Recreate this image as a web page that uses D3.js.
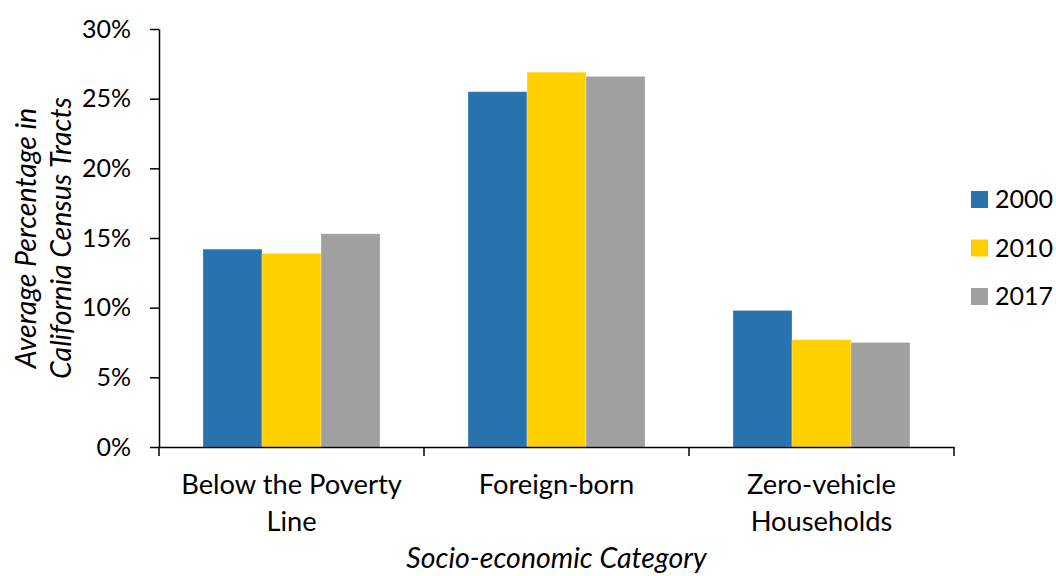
<!DOCTYPE html>
<html>
<head>
<meta charset="utf-8">
<script src="https://cdn.jsdelivr.net/npm/d3@7"></script>
<style>
  html, body { margin: 0; padding: 0; background: #fff; }
  svg { display: block; }
  text { font-family: Lato, "Open Sans", sans-serif; fill: #000; }
</style>
</head>
<body>
<svg id="chart" width="1056" height="576"></svg>
<script>
const categories = ["Below the Poverty Line", "Foreign-born", "Zero-vehicle Households"];
const categoryLines = [["Below the Poverty", "Line"], ["Foreign-born"], ["Zero-vehicle", "Households"]];
const seriesNames = ["2000", "2010", "2017"];
const values2000 = [14.2, 25.5, 9.8];
const values2010 = [13.9, 26.9, 7.7];
const values2017 = [15.3, 26.6, 7.5];
const yTicks = [0, 5, 10, 15, 20, 25, 30];
const colors = ["#2872AD", "#FFD000", "#A0A0A0"];
const yTitleLines = ["Average Percentage in", "California Census Tracts"];
const xTitle = "Socio-economic Category";

const seriesValues = [values2000, values2010, values2017];
const FS_NUM = 25;
const FS_CAT = 27.3;
const FS_TITLE = 28.5;

const svg = d3.select("#chart");

const y = d3.scaleLinear().domain([0, 30]).range([447, 29]);
const x0 = d3.scaleBand().domain(categories).range([159, 954])
  .paddingInner(0.332).paddingOuter(0.166);
const x1 = d3.scaleBand().domain(seriesNames).range([0, x0.bandwidth()]);
const color = d3.scaleOrdinal().domain(seriesNames).range(colors);

// bars
const groups = svg.append("g").selectAll("g")
  .data(categories)
  .join("g")
  .attr("transform", d => `translate(${x0(d)},0)`);

groups.selectAll("rect")
  .data((c, i) => seriesNames.map((s, j) => ({ s, v: seriesValues[j][i] })))
  .join("rect")
  .attr("x", d => x1(d.s))
  .attr("width", x1.bandwidth())
  .attr("y", d => y(d.v))
  .attr("height", d => y(0) - y(d.v))
  .attr("fill", d => color(d.s))
  .attr("stroke", "#ffffff")
  .attr("stroke-opacity", 0.35)
  .attr("stroke-width", 0.8);

// y axis
const yAxis = svg.append("g")
  .attr("transform", "translate(159,0)")
  .call(d3.axisLeft(y).tickValues(yTicks).tickFormat(d => d + "%")
    .tickSize(9).tickSizeOuter(0).tickPadding(19));
yAxis.select(".domain").attr("stroke", "#000").attr("stroke-width", 1.5);
yAxis.selectAll(".tick line").attr("stroke", "#000").attr("stroke-width", 1.5);
yAxis.selectAll(".tick text").attr("font-size", FS_NUM).attr("font-family", "Lato, sans-serif").attr("fill", "#000");

// x axis
const xAxis = svg.append("g")
  .attr("transform", `translate(0,${y(0)})`)
  .call(d3.axisBottom(x0).tickSize(0).tickSizeOuter(0).tickFormat(""));
xAxis.select(".domain").attr("stroke", "#000").attr("stroke-width", 1.5);
xAxis.selectAll(".tick").remove();

const step = x0.step();
const boundaries = [x0.range()[0]].concat(
  categories.map(c => x0(c) + x0.bandwidth() + step * x0.paddingInner() / 2));
svg.append("g").selectAll("line")
  .data(boundaries)
  .join("line")
  .attr("x1", d => d).attr("x2", d => d)
  .attr("y1", y(0)).attr("y2", y(0) + 9)
  .attr("stroke", "#000").attr("stroke-width", 1.5);

// category labels
const lab = svg.append("g").selectAll("text")
  .data(categories)
  .join("text")
  .attr("text-anchor", "middle")
  .attr("font-size", FS_CAT)
  .attr("x", d => x0(d) + x0.bandwidth() / 2)
  .attr("y", 494);
lab.selectAll("tspan")
  .data((d, i) => categoryLines[i])
  .join("tspan")
  .attr("x", function () { return d3.select(this.parentNode).attr("x"); })
  .attr("dy", (d, i) => i === 0 ? 0 : 37)
  .text(d => d);

// y title
const yMid = (y(0) + y(30)) / 2;
svg.append("g").selectAll("text")
  .data(yTitleLines)
  .join("text")
  .attr("transform", (d, i) => `translate(${36 + i * 35},${yMid}) rotate(-90)`)
  .attr("text-anchor", "middle")
  .attr("font-size", FS_TITLE)
  .attr("font-style", "italic")
  .text(d => d);

// x title
svg.append("text")
  .attr("x", (x0.range()[0] + x0.range()[1]) / 2)
  .attr("y", 568)
  .attr("text-anchor", "middle")
  .attr("font-size", FS_TITLE)
  .attr("font-style", "italic")
  .text(xTitle);

// legend
const leg = svg.append("g").selectAll("g")
  .data(seriesNames)
  .join("g")
  .attr("transform", (d, i) => `translate(971,${191 + i * 48.5})`);
leg.append("rect").attr("width", 17).attr("height", 17).attr("fill", d => color(d));
leg.append("text").attr("x", 24).attr("y", 17).attr("font-size", FS_NUM).text(d => d);
</script>
</body>
</html>
